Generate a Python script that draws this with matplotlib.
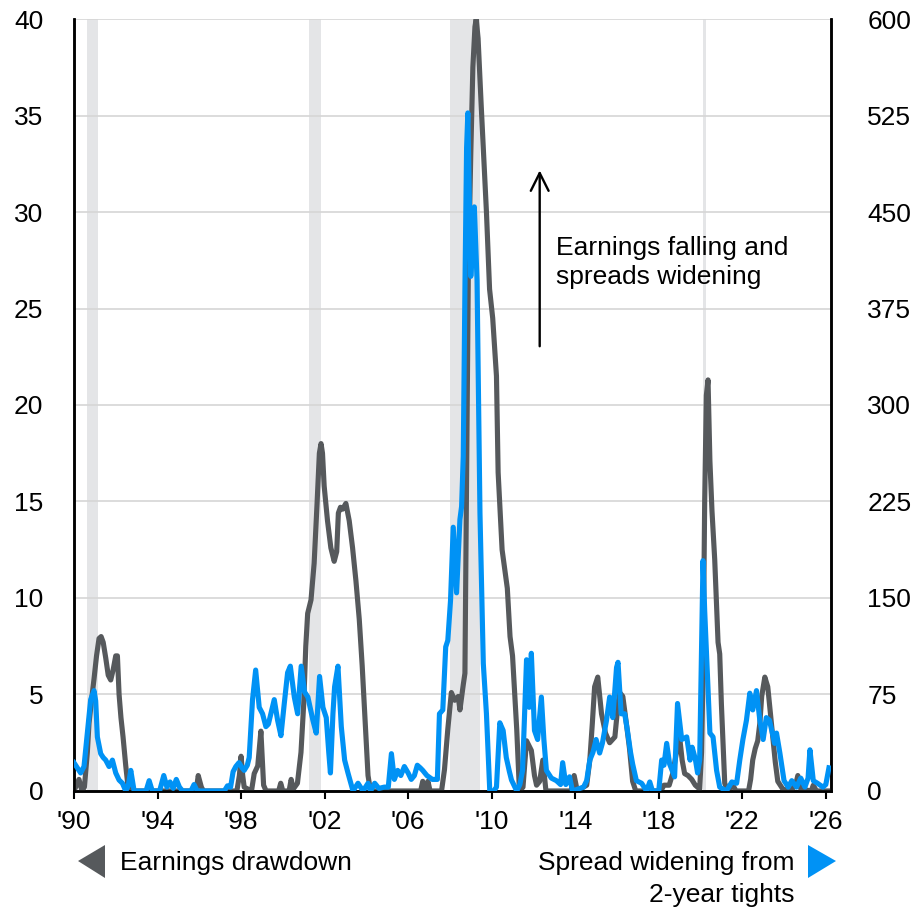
import matplotlib
matplotlib.use("Agg")
import matplotlib.pyplot as plt
from matplotlib.patches import Polygon

plt.rcParams['font.family'] = ['Liberation Sans', 'DejaVu Sans']

# ---------------- data ----------------
earn_years = [1990.00, 1990.12, 1990.24, 1990.38, 1990.50, 1990.64, 1990.72, 1990.85, 1990.96, 1991.08,
              1991.20, 1991.30, 1991.40, 1991.52, 1991.64, 1991.76, 1991.88, 1992.00, 1992.08, 1992.16,
              1992.25, 1992.35, 1992.48, 1992.58, 1992.70, 1995.85, 1995.95, 1996.10, 1996.20, 1997.80,
              1997.92, 1998.00, 1998.08, 1998.15, 1998.50, 1998.63, 1998.80, 1998.95, 1999.08, 1999.20,
              1999.80, 1999.90, 2000.00, 2000.30, 2000.40, 2000.50, 2000.70, 2000.87, 2001.00, 2001.10,
              2001.19, 2001.35, 2001.50, 2001.64, 2001.75, 2001.83, 2001.90, 2001.98, 2002.14, 2002.30,
              2002.46, 2002.58, 2002.66, 2002.76, 2002.86, 2003.02, 2003.18, 2003.34, 2003.50, 2003.66,
              2003.80, 2003.95, 2004.08, 2004.20, 2006.60, 2006.70, 2006.80, 2006.95, 2007.05, 2007.60,
              2007.74, 2007.90, 2008.07, 2008.23, 2008.40, 2008.48, 2008.64, 2008.72, 2008.80, 2008.88,
              2009.00, 2009.10, 2009.20, 2009.26, 2009.35, 2009.50, 2009.75, 2009.90, 2010.05, 2010.23,
              2010.31, 2010.50, 2010.75, 2010.88, 2011.00, 2011.20, 2011.33, 2011.50, 2011.67, 2011.90,
              2012.05, 2012.15, 2012.30, 2012.45, 2012.60, 2013.80, 2013.95, 2014.10, 2014.55, 2014.70,
              2014.82, 2014.93, 2015.08, 2015.26, 2015.45, 2015.65, 2015.90, 2016.05, 2016.13, 2016.28,
              2016.45, 2016.60, 2016.75, 2016.90, 2018.10, 2018.25, 2018.50, 2018.67, 2018.85, 2019.00,
              2019.12, 2019.24, 2019.40, 2019.58, 2019.75, 2019.96, 2020.05, 2020.12, 2020.20, 2020.28,
              2020.36, 2020.45, 2020.55, 2020.68, 2020.84, 2020.92, 2021.00, 2021.08, 2021.16, 2021.30,
              2021.55, 2021.70, 2022.30, 2022.40, 2022.50, 2022.62, 2022.74, 2022.84, 2022.93, 2023.08,
              2023.22, 2023.35, 2023.46, 2023.58, 2023.70, 2023.94, 2024.30, 2024.55, 2024.66, 2024.80,
              2025.30, 2025.40, 2025.55, 2026.15]
earn_drawdown = [0, 0.3, 0.6, 0, 0.2, 2.0, 3.5, 4.8, 5.8, 7.0,
                 7.9, 8.0, 7.7, 6.9, 6.0, 5.75, 6.3, 7.0, 7.0, 5.0,
                 3.8, 2.8, 1.3, 0.3, 0, 0, 0.8, 0.2, 0, 0,
                 0.8, 1.8, 0.8, 0.2, 0, 0.9, 1.3, 3.1, 0.3, 0,
                 0, 0.4, 0, 0, 0.6, 0.1, 0.4, 2.0, 4.5, 7.5,
                 9.2, 9.9, 11.8, 14.9, 17.5, 18.0, 17.5, 15.8, 14.0, 12.6,
                 11.9, 12.4, 14.4, 14.7, 14.6, 14.9, 14.0, 12.6, 10.9, 8.9,
                 6.5, 3.5, 0.8, 0, 0, 0.5, 0.1, 0.5, 0, 0,
                 1.1, 3.2, 5.1, 4.7, 4.9, 4.2, 5.5, 6.1, 16, 26.5,
                 33, 37.5, 39.6, 40, 39, 35.5, 30, 26, 24.5, 21.5,
                 16.5, 12.5, 10.5, 8.0, 7.0, 3.2, 0, 0.2, 2.6, 2.1,
                 0.8, 0.3, 0.5, 1.6, 0, 0, 0.8, 0, 0.3, 1.6,
                 3.5, 5.4, 5.9, 4.0, 3.0, 2.5, 2.8, 4.5, 5.1, 4.9,
                 3.5, 2.2, 0.5, 0, 0, 0.3, 0.3, 0.9, 2.0, 2.8,
                 1.6, 0.9, 0.8, 0.6, 0.3, 0.1, 2.0, 6, 15, 20.5,
                 21.3, 17.1, 14.5, 12, 7.7, 7.1, 4.5, 2.5, 0.4, 0,
                 0.3, 0, 0, 0.6, 1.6, 2.2, 2.6, 3.5, 4.9, 5.9,
                 5.4, 4.0, 2.8, 1.5, 0.5, 0.1, 0, 0.3, 0.8, 0.1,
                 0, 0.3, 0, 0]

spread_years = [1990.00, 1990.16, 1990.32, 1990.48, 1990.64, 1990.80, 1990.96, 1991.04, 1991.12, 1991.28,
                1991.40, 1991.52, 1991.68, 1991.84, 1992.00, 1992.16, 1992.32, 1992.48, 1992.60, 1992.72,
                1992.88, 1993.45, 1993.60, 1993.75, 1994.10, 1994.30, 1994.45, 1994.60, 1994.75, 1994.90,
                1995.05, 1995.20, 1995.60, 1995.75, 1995.90, 1997.20, 1997.35, 1997.50, 1997.62, 1997.75,
                1997.90, 1998.05, 1998.15, 1998.30, 1998.39, 1998.55, 1998.70, 1998.87, 1999.03, 1999.19,
                1999.31, 1999.43, 1999.59, 1999.75, 1999.91, 2000.07, 2000.23, 2000.36, 2000.55, 2000.71,
                2000.88, 2001.04, 2001.20, 2001.44, 2001.60, 2001.76, 2001.92, 2002.08, 2002.20, 2002.28,
                2002.40, 2002.48, 2002.64, 2002.80, 2002.96, 2003.12, 2003.36, 2003.60, 2003.84, 2004.08,
                2004.20, 2004.40, 2004.60, 2004.86, 2005.05, 2005.20, 2005.34, 2005.50, 2005.65, 2005.82,
                2006.00, 2006.15, 2006.30, 2006.44, 2006.58, 2006.70, 2006.90, 2007.16, 2007.40, 2007.50,
                2007.66, 2007.80, 2007.90, 2008.03, 2008.16, 2008.32, 2008.48, 2008.56, 2008.64, 2008.72,
                2008.80, 2008.86, 2008.94, 2009.00, 2009.10, 2009.17, 2009.30, 2009.44, 2009.60, 2009.75,
                2009.91, 2010.10, 2010.23, 2010.39, 2010.55, 2010.70, 2010.85, 2010.95, 2011.20, 2011.35,
                2011.48, 2011.60, 2011.67, 2011.80, 2011.90, 2012.05, 2012.20, 2012.38, 2012.50, 2012.62,
                2012.86, 2013.10, 2013.30, 2013.40, 2013.55, 2013.73, 2013.87, 2014.40, 2014.55, 2014.70,
                2014.85, 2015.00, 2015.17, 2015.30, 2015.50, 2015.65, 2015.80, 2015.98, 2016.05, 2016.20,
                2016.37, 2016.50, 2016.65, 2016.75, 2016.93, 2017.18, 2017.42, 2017.57, 2017.70, 2018.00,
                2018.14, 2018.25, 2018.38, 2018.52, 2018.76, 2018.90, 2019.10, 2019.34, 2019.50, 2019.60,
                2019.75, 2019.86, 2019.96, 2020.06, 2020.12, 2020.20, 2020.30, 2020.45, 2020.60, 2020.77,
                2020.92, 2021.24, 2021.50, 2021.73, 2021.88, 2022.03, 2022.20, 2022.36, 2022.50, 2022.68,
                2022.84, 2023.00, 2023.15, 2023.30, 2023.55, 2023.64, 2023.80, 2024.00, 2024.20, 2024.37,
                2024.60, 2024.80, 2025.00, 2025.15, 2025.24, 2025.40, 2025.60, 2025.86, 2026.00, 2026.15]
spread_widening = [22, 18, 14, 19, 45, 71, 78, 70, 42, 29,
                   26, 24, 19, 24, 14, 8.5, 6, 0, 4, 16,
                   0, 0, 8, 0, 0, 12, 3, 7, 2, 9,
                   3, 0, 0, 5, 0, 0, 4, 3, 15, 19,
                   22, 18, 16, 20, 26, 71, 94, 65, 60, 50,
                   52, 60, 71, 55, 43, 68, 92, 97, 73, 60,
                   97, 77, 73, 55, 45, 89, 65, 57, 30, 14,
                   60, 81, 97, 50, 24, 14, 0, 6, 0, 6,
                   0, 6, 2, 3, 3, 29, 9, 16, 12, 19,
                   14, 9, 12, 20, 18, 16, 12, 9, 9, 60,
                   63, 112, 117, 148, 205, 154, 211, 221, 260, 390,
                   500, 527, 450, 400, 430, 454, 397, 216, 99, 60,
                   0, 0, 3, 53, 47, 26, 15, 8.5, 0, 5,
                   16, 70, 102, 65, 107, 47, 40, 73, 40, 16,
                   10, 8, 5, 22, 5, 11, 0, 3, 8, 24,
                   30, 40, 29.5, 37, 55, 73, 57, 96, 100, 60,
                   60, 47, 30, 21, 8, 6, 0, 7, 0, 0,
                   24, 20, 37, 21, 11, 68, 40, 42, 24, 34,
                   25, 14, 24, 120, 179, 140, 102, 45, 42, 16,
                   3, 0, 7, 6, 24, 40, 55, 76, 63, 78,
                   55, 40, 57, 55, 37, 45, 29.5, 8, 3, 8,
                   3, 10, 3, 10, 32, 8, 6, 3, 5, 18]

recessions = [(1990.62, 1991.17), (2001.25, 2001.83), (2008.0, 2009.42), (2020.13, 2020.27)]

x_ticks = [1990, 1994, 1998, 2002, 2006, 2010, 2014, 2018, 2022, 2026]
x_labels = ["'90", "'94", "'98", "'02", "'06", "'10", "'14", "'18", "'22", "'26"]
left_ticks = [0, 5, 10, 15, 20, 25, 30, 35, 40]
right_ticks = [0, 75, 150, 225, 300, 375, 450, 525, 600]

GRAY = '#56595c'
BLUE = '#0092f5'
FS = 19

# ---------------- figure ----------------
fig = plt.figure(figsize=(9.2, 9.1), dpi=100)
ax = fig.add_axes([0.0804, 0.1308, 0.8229, 0.8483])
ax2 = ax.twinx()

for a, b in recessions:
    ax.axvspan(a, b, color='#e4e5e7', lw=0, zorder=0)

ax.set_xlim(1990, 2026.25)
ax.set_ylim(0, 40)
ax2.set_ylim(0, 600)

ax.set_yticks(left_ticks)
ax2.set_yticks(right_ticks)
ax.grid(axis='y', color='#d6d6d6', lw=1.2, zorder=0.5)
ax.set_axisbelow(True)

ax.plot(earn_years, earn_drawdown, color=GRAY, lw=3.7, solid_joinstyle='round', zorder=3)
ax2.plot(spread_years, spread_widening, color=BLUE, lw=3.7, solid_joinstyle='round', zorder=3)

ax.set_xticks(x_ticks)
ax.set_xticklabels(x_labels)
ax.tick_params(axis='x', direction='out', length=6, width=1.5, pad=8, labelsize=FS)
ax.tick_params(axis='y', length=0, pad=22, labelsize=FS)
ax2.tick_params(axis='y', length=0, pad=26, labelsize=FS)

for a in (ax, ax2):
    a.spines['top'].set_visible(False)
    a.spines['left'].set_linewidth(1.8)
    a.spines['right'].set_linewidth(1.8)
    a.spines['bottom'].set_linewidth(1.8)

# annotation arrow and text
ax.annotate('', xy=(2012.3, 32.3), xytext=(2012.3, 22.9),
            arrowprops=dict(arrowstyle='->', lw=1.7, color='black', mutation_scale=32),
            zorder=5)
ax.text(2013.1, 27.4, 'Earnings falling and\nspreads widening', fontsize=FS,
        ha='left', va='center', linespacing=1.25, zorder=5)

# bottom legend
W, H = 920.0, 910.0
def fxy(px, py):
    return (px / W, 1 - py / H)

fig.add_artist(Polygon([fxy(78, 861), fxy(105, 845), fxy(105, 878)], closed=True,
                       transform=fig.transFigure, color=GRAY, lw=0))
fig.add_artist(Polygon([fxy(808, 845), fxy(808, 878), fxy(836, 861)], closed=True,
                       transform=fig.transFigure, color=BLUE, lw=0))
fig.text(*fxy(120, 863), 'Earnings drawdown', fontsize=FS, ha='left', va='center')
fig.text(*fxy(795, 863), 'Spread widening from', fontsize=FS, ha='right', va='center')
fig.text(*fxy(795, 895), '2-year tights', fontsize=FS, ha='right', va='center')

fig.savefig('out.png', dpi=100)
